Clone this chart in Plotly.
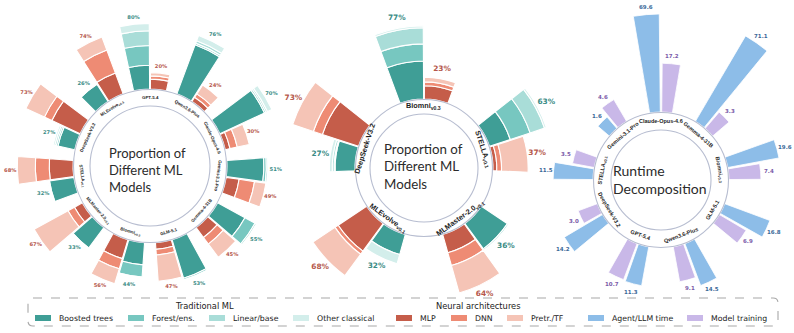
import plotly.graph_objects as go
import numpy as np

W, H = 794, 333

# ---------------- data ----------------
# Panel 1: proportion of ML model families, all systems
ml_systems = ["GPT-5.4", "Qwen3.6-Plus", "Claude-Opus-4.6", "Gemini-3.1-Pro", "Gemma-4-31B",
              "GLM-5.1", "Biomni<sub>v0.3</sub>", "MLMaster-2.0<sub>v0.1</sub>", "STELLA<sub>v0.1</sub>",
              "DeepSeek-V3.2", "MLEvolve<sub>v0.1</sub>"]
ml_boosted = [29, 64, 60, 45, 38, 49, 27, 31, 30, 21, 25]
ml_forest = [24, 2, 2, 3, 14, 2, 15, 1, 1, 2, 0.5]
ml_linear = [18, 3, 2, 2, 2, 1, 1, 0.5, 0.5, 2, 0.3]
ml_other = [9, 7, 6, 1, 1, 1, 1, 0.5, 0.5, 2, 0.2]
ml_mlp = [12, 6, 6, 16, 15, 8, 24, 11, 29, 38, 27]
ml_dnn = [4, 5, 9, 19, 10, 7, 13, 9, 17, 10, 30]
ml_pretr = [4, 13, 15, 14, 20, 32, 19, 47, 22, 25, 17]

# Panel 2: agent frameworks
ag_systems = ["Biomni<sub>v0.3</sub>", "STELLA<sub>v0.1</sub>", "MLMaster-2.0<sub>v0.1</sub>",
              "MLEvolve<sub>v0.1</sub>", "DeepSeek-V3.2"]
ag_boosted = [40, 23, 33, 22, 21]
ag_forest = [18, 22, 1.5, 0, 1]
ag_linear = [17, 16, 1, 0, 2]
ag_other = [2, 2, 0.5, 10, 3]
ag_mlp = [14, 4, 20, 36, 40]
ag_dnn = [4, 5, 14, 4, 10]
ag_pretr = [5, 28, 30, 28, 23]

# Panel 3: runtime decomposition
rt_systems = ["Claude-Opus-4.6", "Gemma-4-31B", "Biomni<sub>v0.3</sub>", "GLM-5.1", "Qwen3.6-Plus",
              "GPT-5.4", "DeepSeek-V3.2", "STELLA<sub>v0.1</sub>", "Gemini-3.1-Pro"]
rt_agent = [69.6, 71.1, 19.6, 16.8, 14.5, 11.3, 14.2, 11.5, 1.6]
rt_train = [17.2, 3.3, 7.4, 6.9, 9.1, 10.7, 3.0, 3.5, 4.6]

legend_labels = ["Boosted trees", "Forest/ens.", "Linear/base", "Other classical",
                 "MLP", "DNN", "Pretr./TF", "Agent/LLM time", "Model training"]

# ---------------- styles ----------------
C = dict(boosted="#3f9e96", forest="#77c7c0", linear="#a9ddd8", other="#d3eeeb",
         mlp="#c55d4a", dnn="#ee8b74", pretr="#f5c4b6", agent="#8dbde8", train="#c9b8e8")
TXT_TEAL = "#3a8b85"
TXT_RED = "#b5574b"
TXT_BLUE = "#3b6898"
TXT_PURP = "#7a5aa8"
RING = "#b7bdd0"
LAB_FONT = "Liberation Sans"
VAL_FONT = "DejaVu Sans"
TITLE_FONT = "Lato"

P1 = dict(pid="polar", cx=150, cy=166, R=150, base=77, scale=0.82, bw=12.0, ring_in=60,
          lab_r=68.5, lab_size=4.4, val_size=5.2, val_off=7,
          title="Proportion of<br>Different ML<br>Models", tx=147, ty=170, tsize=13)
P2 = dict(pid="polar2", cx=424, cy=168, R=165, base=69, scale=0.95, bw=20.0, ring_in=54,
          lab_r=62, lab_size=7.3, val_size=7.4, val_off=10,
          title="Proportion of<br>Different ML<br>Models", tx=423, ty=166, tsize=13.3)
P3 = dict(pid="polar3", cx=661, cy=180, R=133, base=68, scale=11.75, bw=9.0, ring_in=50,
          lab_r=59, lab_size=5.5, val_size=5.5, val_off=8,
          title="Runtime<br>Decomposition", tx=660, ty=179, tsize=14)
# wider sector-shaped view of panel 3, so the two tallest bars are not cut by the circle
P3X = dict(P3, pid="polar4", R=178, sector=[45, 105])

fig = go.Figure()


def sector_bbox(sector):
    a = np.deg2rad(np.linspace(sector[0], sector[1], 721))
    xs = np.concatenate([np.cos(a), [0.0]])
    ys = np.concatenate([np.sin(a), [0.0]])
    return xs.min(), ys.min(), xs.max(), ys.max()


def polar_layout(p):
    b0, b1, b2, b3 = sector_bbox(p["sector"]) if "sector" in p else (-1, -1, 1, 1)
    R = p["R"]
    lay = dict(
        domain=dict(x=[(p["cx"] + R * b0) / W, (p["cx"] + R * b2) / W],
                    y=[1 - (p["cy"] - R * b1) / H, 1 - (p["cy"] - R * b3) / H]),
        hole=p["base"] / R, bgcolor="rgba(0,0,0,0)", barmode="stack",
        radialaxis=dict(visible=False, range=[0, (R - p["base"]) / p["scale"]]),
        angularaxis=dict(visible=False, rotation=90, direction="clockwise"))
    if "sector" in p:
        lay["sector"] = p["sector"]
    return lay


def label_angle(a):
    a = a % 360
    if 99 < a < 262:
        return a - 180
    if a >= 262:
        return a - 360
    return a


annotations = []
shapes = []


def px(x):
    return x / W


def py(y):
    return 1 - y / H


def polar_to_paper(p, r_units, theta_deg):
    """map a radial value (axis units) and angle to paper coords, same mapping as the polar axis"""
    rpx = p["base"] + r_units * p["scale"]
    rad = np.deg2rad(theta_deg)
    return px(p["cx"] + rpx * np.sin(rad)), py(p["cy"] - rpx * np.cos(rad))


def add_frame(p, systems):
    n = len(systems)
    for i, s in enumerate(systems):
        a = i * 360 / n
        rad = np.deg2rad(a)
        x = p["cx"] + p["lab_r"] * np.sin(rad)
        y = p["cy"] - p["lab_r"] * np.cos(rad)
        annotations.append(dict(
            x=px(x), y=py(y), xref="paper", yref="paper", showarrow=False,
            text=s, textangle=label_angle(a), xanchor="center", yanchor="middle",
            font=dict(family=LAB_FONT, size=p["lab_size"], color="#1e1e1e", weight="bold")))
    for r in (p["ring_in"], p["base"] - 0.5):
        shapes.append(dict(type="circle", xref="paper", yref="paper",
                           x0=px(p["cx"] - r), x1=px(p["cx"] + r),
                           y0=py(p["cy"] + r), y1=py(p["cy"] - r),
                           line=dict(color=RING, width=1.1), layer="above"))
    annotations.append(dict(
        x=px(p["tx"]), y=py(p["ty"]), xref="paper", yref="paper", showarrow=False,
        text=p["title"], align="left", xanchor="center", yanchor="middle",
        font=dict(family=TITLE_FONT, size=p["tsize"], color="#2b2b2b")))


def add_ml_panel(p, systems, trad, neur):
    n = len(systems)
    ang = [i * 360 / n for i in range(n)]
    off = p["bw"] / 2 + 0.3
    th_t = [a - off for a in ang]
    th_n = [a + off for a in ang]
    for key, vals in trad:
        fig.add_trace(go.Barpolar(r=vals, theta=th_t, width=p["bw"], subplot=p["pid"],
                                  marker=dict(color=C[key], line=dict(color="white", width=1.1)),
                                  showlegend=False, hoverinfo="skip"))
    for key, vals in neur:
        fig.add_trace(go.Barpolar(r=vals, theta=th_n, width=p["bw"], subplot=p["pid"],
                                  marker=dict(color=C[key], line=dict(color="white", width=1.1)),
                                  showlegend=False, hoverinfo="skip"))
    tot_t = np.sum([v for _, v in trad], axis=0)
    tot_n = np.sum([v for _, v in neur], axis=0)
    o = p["val_off"] / p["scale"]
    fig.add_trace(go.Scatterpolar(r=tot_t + o, theta=th_t, mode="text", subplot=p["pid"],
                                  text=[f"{v:.0f}%" for v in tot_t], cliponaxis=False,
                                  textfont=dict(family=VAL_FONT, size=p["val_size"],
                                                color=TXT_TEAL, weight="bold"),
                                  showlegend=False, hoverinfo="skip"))
    fig.add_trace(go.Scatterpolar(r=tot_n + o, theta=th_n, mode="text", subplot=p["pid"],
                                  text=[f"{v:.0f}%" for v in tot_n], cliponaxis=False,
                                  textfont=dict(family=VAL_FONT, size=p["val_size"],
                                                color=TXT_RED, weight="bold"),
                                  showlegend=False, hoverinfo="skip"))
    add_frame(p, systems)


add_ml_panel(P1, ml_systems,
             [("boosted", ml_boosted), ("forest", ml_forest), ("linear", ml_linear), ("other", ml_other)],
             [("mlp", ml_mlp), ("dnn", ml_dnn), ("pretr", ml_pretr)])
add_ml_panel(P2, ag_systems,
             [("boosted", ag_boosted), ("forest", ag_forest), ("linear", ag_linear), ("other", ag_other)],
             [("mlp", ag_mlp), ("dnn", ag_dnn), ("pretr", ag_pretr)])

# Panel 3 (square-root radial scale)
n3 = len(rt_systems)
ang3 = [i * 360 / n3 for i in range(n3)]
off3 = P3["bw"] / 2 + 0.6
th_a = [a - off3 for a in ang3]
th_b = [a + off3 for a in ang3]
sq_a = np.sqrt(rt_agent)
sq_b = np.sqrt(rt_train)
for pid in ("polar3", "polar4"):
    fig.add_trace(go.Barpolar(r=sq_a, theta=th_a, width=P3["bw"], subplot=pid,
                              marker=dict(color=C["agent"], line=dict(color="white", width=0.8)),
                              showlegend=False, hoverinfo="skip"))
    fig.add_trace(go.Barpolar(r=sq_b, theta=th_b, width=P3["bw"], subplot=pid,
                              marker=dict(color=C["train"], line=dict(color="white", width=0.8)),
                              showlegend=False, hoverinfo="skip"))
o3 = P3["val_off"] / P3["scale"]
for vals, sq, ths, col in ((rt_agent, sq_a, th_a, TXT_BLUE), (rt_train, sq_b, th_b, TXT_PURP)):
    for v, s, t in zip(vals, sq, ths):
        x, y = polar_to_paper(P3, s + o3, t)
        annotations.append(dict(x=x, y=y, xref="paper", yref="paper", showarrow=False,
                                text=f"{v:.1f}", xanchor="center", yanchor="middle",
                                font=dict(family=VAL_FONT, size=P3["val_size"], color=col,
                                          weight="bold")))
add_frame(P3, rt_systems)

# ---------------- legend (drawn) ----------------
bx0, bx1, by0, by1, rr = 28, 778, 298, 326, 5
path = (f"M {px(bx0 + rr)} {py(by0)} L {px(bx1 - rr)} {py(by0)} "
        f"Q {px(bx1)} {py(by0)} {px(bx1)} {py(by0 + rr)} L {px(bx1)} {py(by1 - rr)} "
        f"Q {px(bx1)} {py(by1)} {px(bx1 - rr)} {py(by1)} L {px(bx0 + rr)} {py(by1)} "
        f"Q {px(bx0)} {py(by1)} {px(bx0)} {py(by1 - rr)} L {px(bx0)} {py(by0 + rr)} "
        f"Q {px(bx0)} {py(by0)} {px(bx0 + rr)} {py(by0)} Z")
shapes.append(dict(type="path", xref="paper", yref="paper", path=path,
                   line=dict(color="#a8a8a8", width=1.1, dash="dash"), layer="above"))
for txt, xc in (("Traditional ML", 205), ("Neural architectures", 478)):
    annotations.append(dict(x=px(xc), y=py(305.5), xref="paper", yref="paper", showarrow=False,
                            text=txt, xanchor="center", yanchor="middle",
                            font=dict(family="DejaVu Sans", size=8.3, color="#222222")))
sw_x = [35, 128, 209, 293, 396, 451, 507, 588, 687]
sw_keys = ["boosted", "forest", "linear", "other", "mlp", "dnn", "pretr", "agent", "train"]
for lab, x0, key in zip(legend_labels, sw_x, sw_keys):
    shapes.append(dict(type="rect", xref="paper", yref="paper", x0=px(x0), x1=px(x0 + 16),
                       y0=py(321), y1=py(315), fillcolor=C[key], line=dict(width=0)))
    annotations.append(dict(x=px(x0 + 22), y=py(318), xref="paper", yref="paper", showarrow=False,
                            text=lab, xanchor="left", yanchor="middle",
                            font=dict(family="DejaVu Sans", size=7.8, color="#222222")))

fig.update_layout(
    width=W, height=H, margin=dict(l=0, r=0, t=0, b=0),
    paper_bgcolor="white", plot_bgcolor="white", showlegend=False,
    polar=polar_layout(P1), polar2=polar_layout(P2), polar3=polar_layout(P3),
    polar4=polar_layout(P3X),
    annotations=annotations, shapes=shapes)

fig.write_html("out.html")
